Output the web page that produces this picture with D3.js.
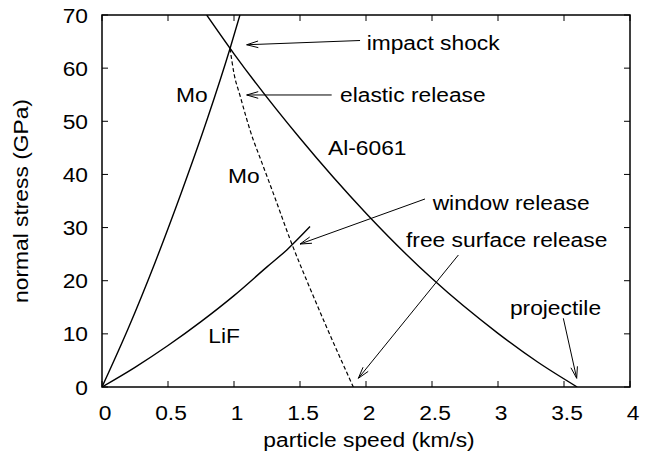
<!DOCTYPE html>
<html><head><meta charset="utf-8">
<script src="https://cdn.jsdelivr.net/npm/d3@7"></script>
<style>body{margin:0;background:#fff}svg{display:block}text{font-family:"Liberation Sans",Arial,sans-serif;fill:#000}</style>
</head><body><svg id="c" width="650" height="457"></svg>
<script>
// ---- data ----
const xTicks = [0, 0.5, 1, 1.5, 2, 2.5, 3, 3.5, 4];
const xTickLabels = ["0", "0.5", "1", "1.5", "2", "2.5", "3", "3.5", "4"];
const yTicks = [0, 10, 20, 30, 40, 50, 60, 70];
const yTickLabels = ["0", "10", "20", "30", "40", "50", "60", "70"];
// Mo Hugoniot
const moU = [0, 0.2, 0.4, 0.6, 0.8, 0.97, 1.045];
const moS = [0, 11.1, 23.3, 36.5, 50.6, 63.7, 70];
// Al-6061 projectile Hugoniot (reflected)
const alU = [0.793, 1.0, 1.5, 2.0, 2.5, 3.0, 3.3, 3.6];
const alS = [70, 62.7, 46.8, 32.7, 20.4, 10.1, 4.7, 0];
// LiF window Hugoniot
const lifU = [0, 0.25, 0.5, 0.75, 1.0, 1.25, 1.4, 1.576];
const lifS = [0, 3.7, 7.8, 12.3, 17.2, 22.6, 25.8, 30.2];
// Mo release path (dashed)
const relU = [0.97, 1.0, 1.045, 1.146, 1.184, 1.30, 1.437, 1.55, 1.70, 1.904];
const relS = [63.7, 59.0, 54.9, 46.5, 44.0, 36.3, 27.0, 20.1, 11.35, 0];
// curve labels
const curveLabels = ["Mo", "Mo", "Al-6061", "LiF"];
const curveLabelU = [0.56, 0.955, 1.712, 0.805];
const curveLabelS = [53.7, 38.45, 43.66, 8.34];
// annotations with arrows
const noteText = ["impact shock", "elastic release", "window release", "free surface release", "projectile"];
const noteU = [2.005, 1.803, 2.505, 2.303, 3.09];
const noteS = [63.4, 53.7, 33.3, 26.4, 13.55];
const arrowFromU = [1.955, 1.74, 2.447, 2.70, 3.495];
const arrowFromS = [65.2, 54.95, 35.38, 24.84, 12.93];
const arrowToU = [1.096, 1.096, 1.5, 1.942, 3.596];
const arrowToS = [64.4, 54.95, 26.9, 1.64, 1.64];

// ---- layout ----
const L = 102, R = 630, T = 15, B = 387;
const FS = 21, SX = 1.085;
const svg = d3.select("#c");
const x = d3.scaleLinear().domain([0, 4]).range([L, R]);
const y = d3.scaleLinear().domain([0, 70]).range([B, T]);

function txt(px, py, s, anchor, rot) {
  return svg.append("text")
    .attr("transform", `translate(${px},${py})` + (rot ? ` rotate(${rot})` : "") + ` scale(${SX},1)`)
    .attr("text-anchor", anchor || "start")
    .style("font-size", FS + "px")
    .text(s);
}

svg.append("defs").append("clipPath").attr("id", "clip")
  .append("rect").attr("x", L).attr("y", T).attr("width", R - L).attr("height", B - T);

// ticks (inward, mirrored)
const tl = 6;
const tg = svg.append("g").attr("stroke", "#000").attr("stroke-width", 1);
xTicks.forEach(v => {
  tg.append("line").attr("x1", x(v)).attr("x2", x(v)).attr("y1", B).attr("y2", B - tl);
  tg.append("line").attr("x1", x(v)).attr("x2", x(v)).attr("y1", T).attr("y2", T + tl);
});
yTicks.forEach(v => {
  tg.append("line").attr("x1", L).attr("x2", L + tl).attr("y1", y(v)).attr("y2", y(v));
  tg.append("line").attr("x1", R).attr("x2", R - tl).attr("y1", y(v)).attr("y2", y(v));
});
xTicks.forEach((v, i) => txt(x(v) + 3, 419.5, xTickLabels[i], "middle"));
yTicks.forEach((v, i) => txt(88, y(v) + 7.5, yTickLabels[i], "end"));

// frame
svg.append("rect").attr("x", L).attr("y", T).attr("width", R - L).attr("height", B - T)
  .attr("fill", "none").attr("stroke", "#000").attr("stroke-width", 1.5);

// axis titles
txt(369, 447, "particle speed (km/s)", "middle");
txt(27.5, 201, "normal stress (GPa)", "middle", -90);

// curves
const line = d3.line().x(d => x(d[0])).y(d => y(d[1])).curve(d3.curveMonotoneX);
const cg = svg.append("g").attr("clip-path", "url(#clip)").attr("fill", "none").attr("stroke", "#000");
cg.append("path").attr("d", line(moU.map((u, i) => [u, moS[i]]))).attr("stroke-width", 1.4);
cg.append("path").attr("d", line(alU.map((u, i) => [u, alS[i]]))).attr("stroke-width", 1.4);
cg.append("path").attr("d", line(lifU.map((u, i) => [u, lifS[i]]))).attr("stroke-width", 1.4);
cg.append("path").attr("d", line(relU.map((u, i) => [u, relS[i]]))).attr("stroke-width", 1.2)
  .attr("stroke-dasharray", "4,2.5");

// curve labels
curveLabels.forEach((s, i) => txt(x(curveLabelU[i]), y(curveLabelS[i]), s, "start"));

// annotations + arrows
const ag = svg.append("g").attr("stroke", "#000").attr("stroke-width", 1).attr("fill", "none");
noteText.forEach((s, i) => {
  txt(x(noteU[i]), y(noteS[i]), s, "start");
  const x1 = x(arrowFromU[i]), y1 = y(arrowFromS[i]), x2 = x(arrowToU[i]), y2 = y(arrowToS[i]);
  ag.append("line").attr("x1", x1).attr("y1", y1).attr("x2", x2).attr("y2", y2);
  const a = Math.atan2(y1 - y2, x1 - x2), hl = 12, ha = 0.28;
  ag.append("path").attr("d",
    `M${x2 + hl * Math.cos(a + ha)},${y2 + hl * Math.sin(a + ha)}L${x2},${y2}L${x2 + hl * Math.cos(a - ha)},${y2 + hl * Math.sin(a - ha)}`);
});
</script></body></html>
